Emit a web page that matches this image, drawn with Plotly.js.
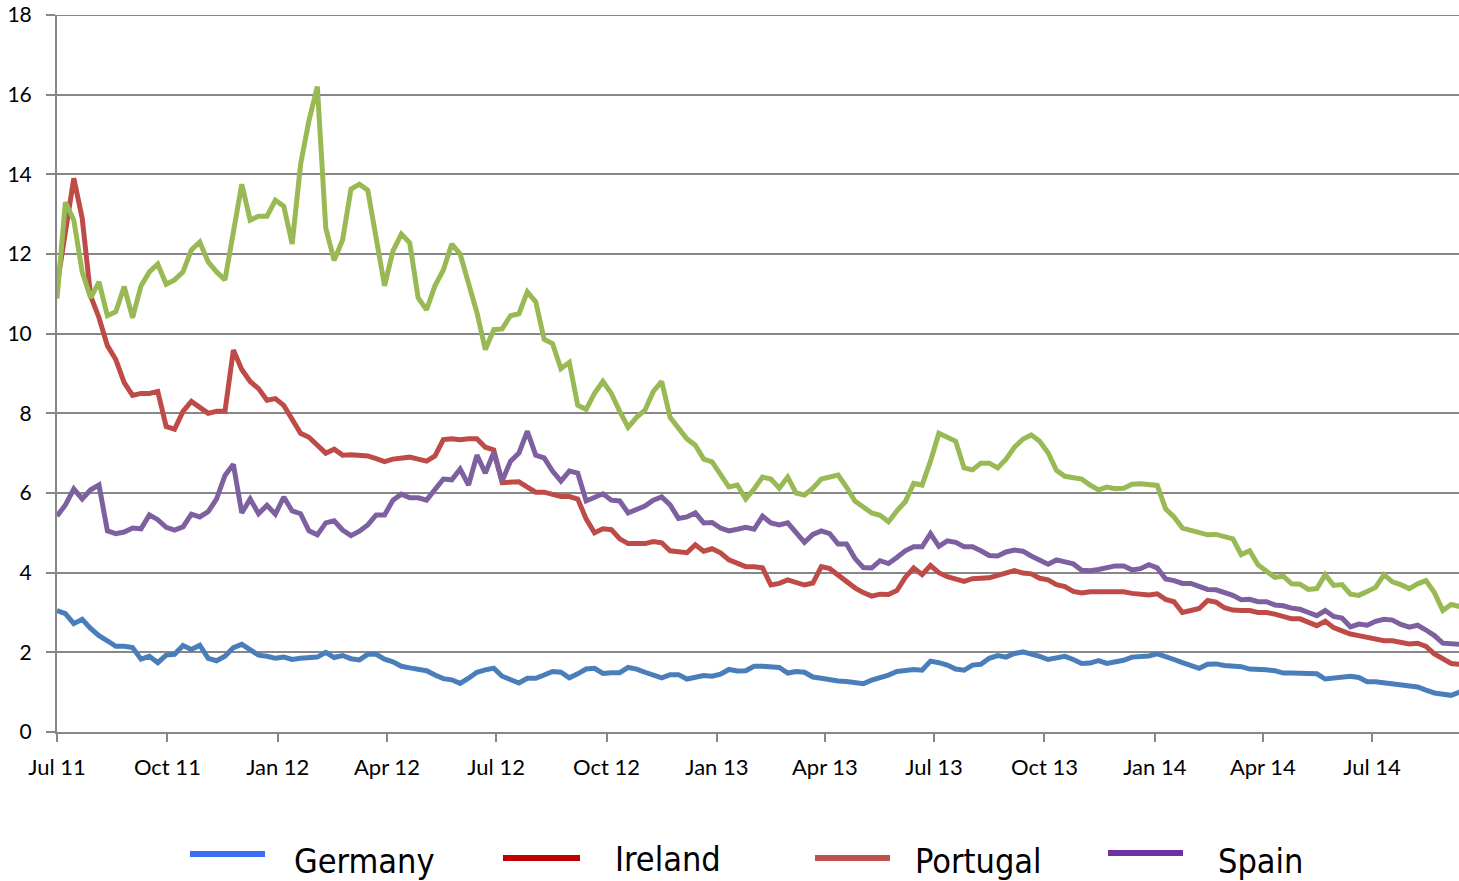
<!DOCTYPE html>
<html>
<head>
<meta charset="utf-8">
<script src="https://cdn.plot.ly/plotly-3.0.1.min.js"></script>
<style>
html,body{margin:0;padding:0;background:#fff;}
#chart{width:1459px;height:881px;}
</style>
</head>
<body>
<div id="chart"></div>
<script>
// Weekly samples starting 1 Jul 2011
const startDate = '2011-07-01';
const stepDays = 7;

const germany = [
3.05,2.97,2.72,2.83,2.6,2.42,2.29,2.15,2.15,2.12,
1.83,1.9,1.74,1.93,1.95,2.17,2.07,2.18,1.85,1.79,
1.9,2.12,2.2,2.05,1.93,1.9,1.85,1.88,1.82,1.85,
1.85,1.88,2.0,1.87,1.92,1.84,1.81,1.95,1.95,1.83,
1.76,1.65,1.61,1.58,1.54,1.43,1.34,1.31,1.22,1.35,
1.5,1.56,1.6,1.4,1.3,1.23,1.35,1.35,1.43,1.52,
1.5,1.36,1.46,1.58,1.6,1.47,1.49,1.49,1.62,1.58,
1.5,1.43,1.36,1.44,1.44,1.33,1.37,1.42,1.4,1.45,
1.57,1.53,1.54,1.65,1.65,1.65,1.62,1.48,1.52,1.5,
1.38,1.35,1.3,1.28,1.27,1.24,1.21,1.3,1.35,1.43,
1.52,1.55,1.57,1.55,1.78,1.74,1.68,1.58,1.55,1.68,
1.7,1.85,1.92,1.88,1.97,2.01,1.96,1.9,1.82,1.85,
1.9,1.82,1.72,1.73,1.79,1.72,1.76,1.8,1.88,1.88,
1.91,1.96,1.9,1.82,1.74,1.66,1.6,1.7,1.71,1.67,
1.67,1.64,1.58,1.58,1.56,1.54,1.48,1.48,1.47,1.46,
1.46,1.33,1.35,1.4,1.4,1.37,1.26,1.26,1.23,1.19,
1.17,1.15,1.13,1.05,0.98,0.95,0.92,1.0];

const ireland = [
11.2,12.6,13.9,12.9,10.95,10.4,9.7,9.35,8.77,8.45,
8.5,8.5,8.55,7.67,7.6,8.05,8.3,8.15,8.0,8.05,
8.05,9.59,9.1,8.8,8.62,8.33,8.37,8.2,7.86,7.5,
7.4,7.18,7.0,7.1,6.95,6.96,6.93,6.93,6.86,6.79,
6.85,6.86,6.9,6.85,6.8,6.93,7.34,7.36,7.34,7.36,
7.36,7.15,7.08,6.26,6.26,6.28,6.15,6.02,6.02,5.98,
5.91,5.91,5.85,5.35,5.0,5.1,5.08,4.85,4.73,4.73,
4.73,4.78,4.75,4.55,4.53,4.5,4.7,4.54,4.6,4.5,
4.32,4.22,4.15,4.15,4.12,3.69,3.73,3.82,3.76,3.69,
3.74,4.15,4.1,3.93,3.8,3.62,3.5,3.41,3.46,3.45,
3.55,3.88,4.12,3.95,4.18,4.0,3.9,3.85,3.78,3.85,
3.87,3.87,3.93,4.0,4.05,3.99,3.97,3.86,3.82,3.7,
3.65,3.53,3.49,3.52,3.52,3.52,3.5,3.52,3.48,3.46,
3.44,3.47,3.33,3.27,3.0,3.05,3.1,3.3,3.26,3.12,
3.06,3.05,3.05,3.0,3.0,2.96,2.9,2.84,2.84,2.74,
2.67,2.78,2.62,2.54,2.46,2.42,2.38,2.36,2.29,2.29,
2.25,2.21,2.23,2.15,1.96,1.85,1.72,1.7];

const portugal = [
10.88,13.3,12.85,11.55,10.9,11.3,10.45,10.55,11.18,10.4,
11.2,11.55,11.75,11.24,11.35,11.55,12.1,12.3,11.8,11.55,
11.35,12.6,13.75,12.85,12.95,12.95,13.35,13.2,12.25,14.25,
15.35,16.2,12.65,11.84,12.35,13.63,13.75,13.6,12.45,11.2,
12.08,12.5,12.28,10.9,10.6,11.2,11.6,12.25,12.0,11.3,
10.53,9.6,10.1,10.12,10.45,10.5,11.05,10.8,9.86,9.75,
9.12,9.28,8.2,8.1,8.5,8.8,8.5,8.05,7.65,7.9,
8.08,8.55,8.8,7.9,7.62,7.36,7.2,6.85,6.78,6.45,
6.15,6.2,5.85,6.1,6.4,6.35,6.12,6.4,6.0,5.95,
6.12,6.35,6.41,6.45,6.15,5.8,5.65,5.5,5.44,5.28,
5.55,5.78,6.24,6.2,6.8,7.5,7.4,7.3,6.63,6.58,
6.75,6.75,6.63,6.85,7.15,7.35,7.46,7.3,7.01,6.57,
6.42,6.4,6.35,6.2,6.08,6.15,6.11,6.12,6.22,6.23,
6.2,6.19,5.6,5.4,5.12,5.07,5.02,4.95,4.96,4.92,
4.85,4.45,4.55,4.2,4.04,3.88,3.91,3.72,3.71,3.58,
3.6,3.95,3.68,3.7,3.46,3.43,3.53,3.63,3.95,3.77,
3.7,3.6,3.72,3.8,3.5,3.05,3.2,3.15];

const spain = [
5.42,5.7,6.1,5.85,6.08,6.2,5.05,4.98,5.02,5.12,
5.1,5.45,5.33,5.14,5.07,5.15,5.47,5.4,5.53,5.85,
6.44,6.72,5.5,5.85,5.48,5.69,5.47,5.9,5.55,5.48,
5.05,4.95,5.25,5.3,5.07,4.93,5.04,5.2,5.45,5.45,
5.82,5.97,5.88,5.88,5.82,6.1,6.35,6.33,6.6,6.2,
6.95,6.5,7.02,6.3,6.8,7.0,7.55,6.95,6.88,6.55,
6.3,6.55,6.5,5.8,5.88,5.98,5.82,5.8,5.5,5.6,
5.67,5.82,5.9,5.7,5.36,5.4,5.5,5.25,5.26,5.12,
5.05,5.09,5.14,5.09,5.42,5.25,5.2,5.25,5.0,4.76,
4.96,5.05,4.98,4.72,4.72,4.36,4.13,4.12,4.3,4.23,
4.38,4.55,4.65,4.65,4.98,4.66,4.8,4.76,4.65,4.65,
4.55,4.43,4.42,4.52,4.57,4.54,4.42,4.33,4.21,4.32,
4.26,4.22,4.06,4.05,4.08,4.12,4.17,4.17,4.07,4.1,
4.2,4.12,3.84,3.8,3.73,3.73,3.64,3.58,3.57,3.5,
3.43,3.32,3.33,3.27,3.27,3.19,3.17,3.11,3.08,3.0,
2.92,3.05,2.9,2.86,2.64,2.71,2.68,2.78,2.83,2.81,
2.7,2.63,2.68,2.56,2.42,2.23,2.2,2.2];

const seriesNames = ['Germany', 'Ireland', 'Portugal', 'Spain'];
const yMax = 18;
const yStep = 2;

// sample dates
const t0 = Date.parse(startDate + 'T00:00:00Z');
const dates = germany.map((_, i) => new Date(t0 + i * stepDays * 86400000).toISOString().slice(0, 10));

const lineColors = ['#4A7EBB', '#BE4B48', '#98B954', '#7D60A0'];
const legendColors = ['#3A6EF5', '#C00000', '#C0504D', '#7030A0'];
const values = [germany, ireland, portugal, spain];

const traces = values.map((v, i) => ({
  type: 'scatter', mode: 'lines', x: dates, y: v, name: seriesNames[i],
  line: {color: lineColors[i], width: 5}, showlegend: false, hoverinfo: 'skip'
}));

// Plot area geometry (pixels)
const L = 57, R = 1459, T = 15, B = 732;
const px = x => (x - L) / (R - L);
const py = y => (B - y) / (B - T);

const legendItems = [
  {x0: 190, x1: 265, ly: 854, tx: 292, ty: 861},
  {x0: 503, x1: 580, ly: 858, tx: 613, ty: 859},
  {x0: 815, x1: 890, ly: 858, tx: 913, ty: 861},
  {x0: 1108, x1: 1183, ly: 853, tx: 1216, ty: 861}
];
const shapes = legendItems.map((it, i) => ({
  type: 'line', xref: 'paper', yref: 'paper',
  x0: px(it.x0), x1: px(it.x1), y0: py(it.ly), y1: py(it.ly),
  line: {color: legendColors[i], width: 6}
}));
// top gridline (Plotly omits the gridline on the plot edge)
shapes.push({
  type: 'line', xref: 'paper', yref: 'y', x0: -9 / (R - L), x1: 1, y0: yMax, y1: yMax,
  line: {color: '#878787', width: 2}
});
const annotations = legendItems.map((it, i) => ({
  xref: 'paper', yref: 'paper', x: px(it.tx), y: py(it.ty),
  xanchor: 'left', yanchor: 'middle', showarrow: false,
  text: seriesNames[i],
  font: {family: '"DejaVu Sans Condensed", Lato, sans-serif', size: 34, color: '#000'}
}));

const layout = {
  width: 1459, height: 881,
  margin: {l: L, r: 1459 - R, t: T, b: 881 - B, pad: 0},
  paper_bgcolor: '#fff', plot_bgcolor: '#fff',
  showlegend: false,
  font: {family: 'Lato, "Open Sans", sans-serif', size: 22, color: '#000'},
  xaxis: {
    type: 'date',
    range: ['2011-07-01', '2014-09-11 12:00'],
    tick0: '2011-07-01', dtick: 'M3', tickformat: '%b %y',
    ticks: 'outside', ticklen: 8, tickwidth: 2, tickcolor: '#878787',
    ticklabelstandoff: 7,
    showgrid: false, zeroline: false,
    showline: true, linecolor: '#878787', linewidth: 2,
    tickfont: {size: 22, color: '#000'}
  },
  yaxis: {
    range: [0, yMax], tickmode: 'linear', tick0: 0, dtick: yStep,
    ticks: 'outside', ticklen: 9, tickwidth: 2, tickcolor: '#878787',
    ticklabelstandoff: 10, ticklabeloverflow: 'allow',
    showgrid: true, gridcolor: '#878787', gridwidth: 2,
    zeroline: false, showline: true, linecolor: '#878787', linewidth: 2,
    tickfont: {size: 21, color: '#000'}
  },
  shapes: shapes,
  annotations: annotations
};

Plotly.newPlot('chart', traces, layout, {displayModeBar: false, staticPlot: true});
</script>
</body>
</html>
